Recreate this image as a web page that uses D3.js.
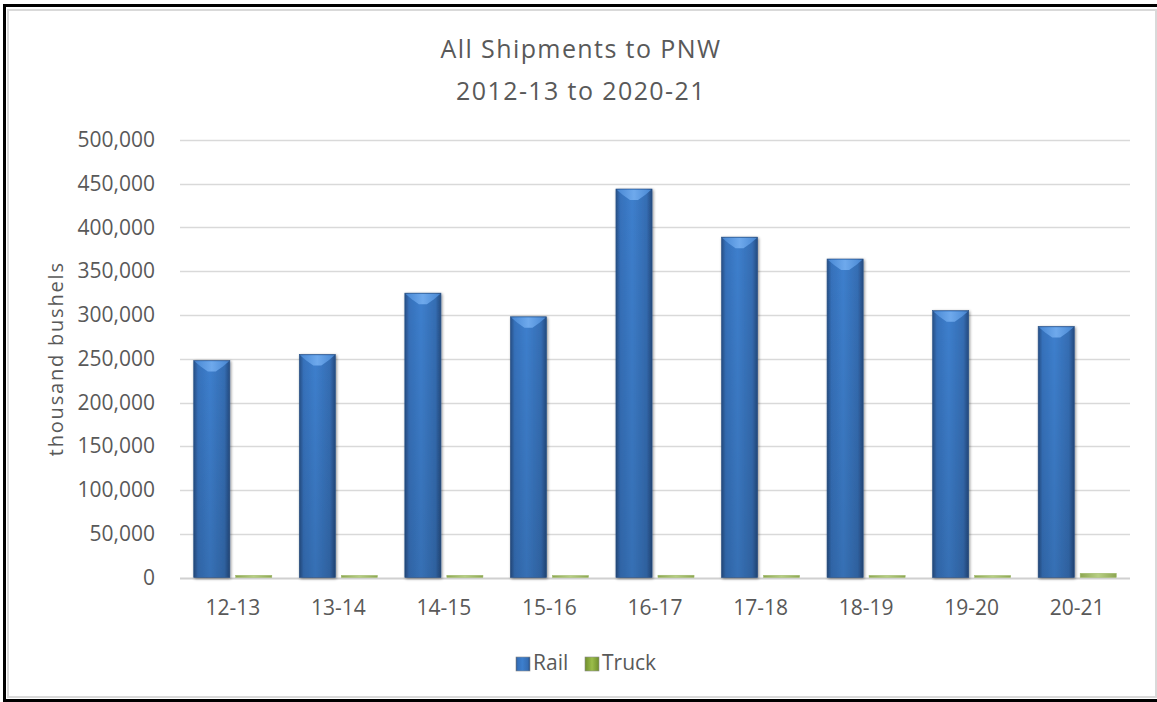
<!DOCTYPE html>
<html>
<head>
<meta charset="utf-8">
<script src="https://cdn.jsdelivr.net/npm/d3@7/dist/d3.min.js"></script>
<style>
  body { margin: 0; background: #fff; }
  svg text { font-family: "Open Sans", "Noto Sans", sans-serif; fill: #595959; }
</style>
</head>
<body>
<svg width="1157" height="702"></svg>
<script>
// chart data
var seasons = ["12-13", "13-14", "14-15", "15-16", "16-17", "17-18", "18-19", "19-20", "20-21"];
var series = ["Rail", "Truck"];
var rail = [248000, 255000, 325000, 298000, 444000, 389000, 364000, 305000, 287000];
var truck = [2500, 2400, 2500, 2300, 2600, 2500, 2400, 2300, 4800];
var yTicks = [0, 50000, 100000, 150000, 200000, 250000, 300000, 350000, 400000, 450000, 500000];
var titleLines = ["All Shipments  to  PNW", "2012-13 to 2020-21"];

var svg = d3.select("svg");
var defs = svg.append("defs");

// gradients for the bevelled look
function hGrad(id, stops){
  var g = defs.append("linearGradient").attr("id", id)
    .attr("x1", "0%").attr("x2", "100%").attr("y1", "0%").attr("y2", "0%");
  stops.forEach(function(s){
    g.append("stop").attr("offset", s[0]).attr("stop-color", s[1]);
  });
}
hGrad("railGrad", [["0%", "#274f85"], ["12%", "#3671bb"], ["45%", "#3d7fcd"], ["85%", "#356db3"], ["100%", "#254b80"]]);
hGrad("railTop", [["0%", "#4a8ad6"], ["50%", "#74aef0"], ["100%", "#4a8ad6"]]);
hGrad("truckGrad", [["0%", "#8da652"], ["50%", "#b7cf83"], ["100%", "#8da652"]]);
hGrad("truckLeg", [["0%", "#6f8e2c"], ["50%", "#9bbd4a"], ["100%", "#6f8e2c"]]);

var vShade = defs.append("linearGradient").attr("id", "vShade")
  .attr("x1", "0%").attr("x2", "0%").attr("y1", "0%").attr("y2", "100%");
vShade.append("stop").attr("offset", "0%").attr("stop-color", "#000").attr("stop-opacity", 0);
vShade.append("stop").attr("offset", "100%").attr("stop-color", "#000").attr("stop-opacity", 0.12);

var shadow = defs.append("filter").attr("id", "shadow")
  .attr("x", "-20%").attr("y", "-5%").attr("width", "140%").attr("height", "110%");
shadow.append("feGaussianBlur").attr("in", "SourceAlpha").attr("stdDeviation", 1.6).attr("result", "b");
shadow.append("feOffset").attr("in", "b").attr("dx", 0.5).attr("dy", 0.5).attr("result", "o");
shadow.append("feComponentTransfer").attr("in", "o").attr("result", "s")
  .append("feFuncA").attr("type", "linear").attr("slope", 0.45);
var merge = shadow.append("feMerge");
merge.append("feMergeNode").attr("in", "s");
merge.append("feMergeNode").attr("in", "SourceGraphic");

// frame
svg.append("rect").attr("x", 8).attr("y", 10).attr("width", 1148).attr("height", 687)
  .attr("fill", "none").attr("stroke", "#d9d9d9").attr("stroke-width", 2);
svg.append("line").attr("x1", 4.5).attr("x2", 4.5).attr("y1", 4).attr("y2", 702)
  .attr("stroke", "#000").attr("stroke-width", 3);
svg.append("line").attr("x1", 3).attr("x2", 1157).attr("y1", 5.5).attr("y2", 5.5)
  .attr("stroke", "#000").attr("stroke-width", 3);
svg.append("line").attr("x1", 3).attr("x2", 1157).attr("y1", 700.5).attr("y2", 700.5)
  .attr("stroke", "#000").attr("stroke-width", 3);

// scales
var x = d3.scaleBand().domain(seasons).range([180, 1130]).paddingInner(0.26).paddingOuter(0.13);
var xs = d3.scaleBand().domain(series).range([0, x.bandwidth()]).paddingInner(0.14);
var y = d3.scaleLinear().domain([0, 500000]).range([577.5, 140]);

// gridlines
svg.append("g").selectAll("line").data(yTicks).join("line")
  .attr("x1", 180).attr("x2", 1130)
  .attr("y1", function(d){ return Math.round(y(d)) + 0.5; })
  .attr("y2", function(d){ return Math.round(y(d)) + 0.5; })
  .attr("stroke", function(d){ return d === 0 ? "#d0d0d0" : "#d9d9d9"; })
  .attr("stroke-width", function(d){ return d === 0 ? 2 : 1.5; });

// y axis labels
var yAxis = svg.append("g").attr("transform", "translate(165,0)")
  .call(d3.axisLeft(y).tickValues(yTicks).tickSize(0).tickPadding(10).tickFormat(d3.format(",")));
yAxis.select(".domain").remove();
yAxis.selectAll("text").style("font-size", "21px").attr("fill", "#595959");

// x axis labels
var xAxis = svg.append("g").attr("transform", "translate(0,594)")
  .call(d3.axisBottom(x).tickSize(0).tickPadding(6));
xAxis.select(".domain").remove();
xAxis.selectAll("text").style("font-size", "21px").attr("fill", "#595959");

// rail bars
var railG = svg.append("g").selectAll("g").data(seasons).join("g")
  .attr("transform", function(d){ return "translate(" + (x(d) + xs("Rail")) + ",0)"; });
var bw = xs.bandwidth();
railG.append("rect")
  .attr("x", 0).attr("width", bw)
  .attr("y", function(d, i){ return y(rail[i]); })
  .attr("height", function(d, i){ return y(0) - y(rail[i]); })
  .attr("fill", "url(#railGrad)")
  .attr("stroke", "#2a5388").attr("stroke-width", 0.6)
  .attr("filter", "url(#shadow)");
railG.append("rect")
  .attr("x", 0).attr("width", bw)
  .attr("y", function(d, i){ return y(rail[i]); })
  .attr("height", function(d, i){ return y(0) - y(rail[i]); })
  .attr("fill", "url(#vShade)");
railG.append("polygon")
  .attr("points", function(d, i){
    var t = y(rail[i]);
    return [[0.8, t + 0.8], [bw - 0.8, t + 0.8], [bw - 7, t + 6], [bw / 2 + 4, t + 11],
            [bw / 2 - 4, t + 11], [7, t + 6]].join(" ");
  })
  .attr("fill", "url(#railTop)").attr("opacity", 0.9);

// truck bars
svg.append("g").selectAll("rect").data(seasons).join("rect")
  .attr("x", function(d){ return x(d) + xs("Truck"); })
  .attr("width", bw)
  .attr("y", function(d, i){ return y(truck[i]); })
  .attr("height", function(d, i){ return y(0) - y(truck[i]); })
  .attr("fill", "url(#truckGrad)")
  .attr("stroke", "#9cb865").attr("stroke-width", 0.5);

// title
svg.append("g").selectAll("text").data(titleLines).join("text")
  .attr("x", 581).attr("y", function(d, i){ return 58 + i * 42; })
  .attr("text-anchor", "middle")
  .style("font-size", "25px").style("letter-spacing", "1.4px")
  .text(function(d){ return d; });

// y axis title
svg.append("text")
  .attr("transform", "translate(63," + ((y(0) + y(500000)) / 2) + ") rotate(-90)")
  .attr("text-anchor", "middle")
  .style("font-size", "20px").style("letter-spacing", "1.8px")
  .text("thousand bushels");

// legend
var legendFill = { Rail: "url(#railGrad)", Truck: "url(#truckLeg)" };
var legendX = { Rail: 516, Truck: 585 };
var leg = svg.append("g").selectAll("g").data(series).join("g")
  .attr("transform", function(d){ return "translate(" + legendX[d] + ",657)"; });
leg.append("rect").attr("width", 14).attr("height", 14)
  .attr("fill", function(d){ return legendFill[d]; })
  .attr("stroke", "#8c8c8c").attr("stroke-width", 0.6);
leg.append("text").attr("x", 17).attr("y", 12.5)
  .style("font-size", "21px")
  .text(function(d){ return d; });
</script>
</body>
</html>
